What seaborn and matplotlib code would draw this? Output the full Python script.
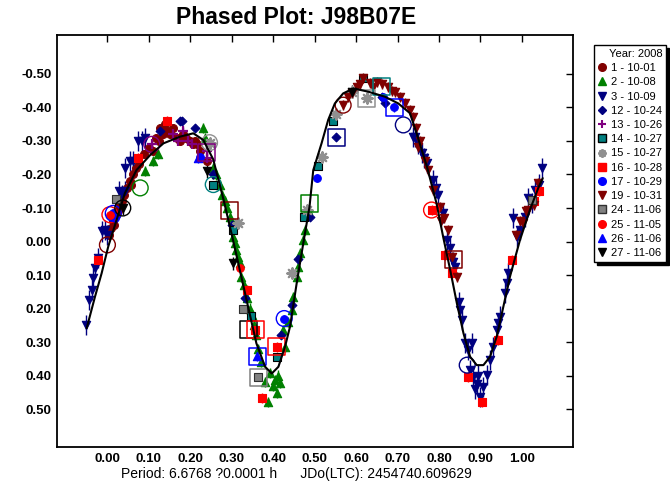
import numpy as np
import pandas as pd
import seaborn as sns
import matplotlib.pyplot as plt
from matplotlib.lines import Line2D

# ---- data (phase, reduced mag) ----
s1_phase = [0.005, 0.010, 0.014, 0.018, 0.022, 0.030, 0.035, 0.040, 0.048, 0.055, 0.062, 0.070,
            0.078, 0.090, 0.110, 0.125, 0.128, 0.135, 0.145, 0.152, 0.160, 0.168, 0.176, 0.190,
            0.200, 0.207, 0.216, 0.225, 0.240, 0.026, 0.058, 0.100, 0.118, 0.140, 0.182, 0.212]
s1_mag = [-0.02, -0.04, -0.06, -0.05, -0.08, -0.11, -0.12, -0.14, -0.16, -0.18, -0.20, -0.22,
          -0.23, -0.26, -0.27, -0.30, -0.34, -0.32, -0.33, -0.32, -0.34, -0.31, -0.30, -0.31,
          -0.30, -0.29, -0.29, -0.27, -0.24, -0.09, -0.17, -0.28, -0.31, -0.35, -0.32, -0.30]

s2_phase = [0.092, 0.111, 0.124, 0.232, 0.235, 0.256, 0.272, 0.284, 0.296, 0.304, 0.308, 0.312,
            0.316, 0.320, 0.324, 0.330, 0.345, 0.355, 0.365, 0.370, 0.389, 0.393, 0.400, 0.405,
            0.409, 0.417, 0.425, 0.429, 0.435, 0.445, 0.449, 0.457, 0.461, 0.465, 0.473, 0.477,
            0.485, 0.262, 0.278, 0.290, 0.338, 0.350, 0.360, 0.381, 0.412]
s2_mag = [-0.21, -0.24, -0.26, -0.34, -0.31, -0.22, -0.17, -0.12, -0.074, -0.014, 0.005, 0.025,
          0.045, 0.065, 0.105, 0.13, 0.20, 0.25, 0.32, 0.36, 0.478, 0.393, 0.43, 0.413,
          0.453, 0.423, 0.264, 0.314, 0.24, 0.205, 0.165, 0.105, 0.075, 0.035, -0.005, -0.034,
          -0.094, -0.20, -0.14, -0.10, 0.17, 0.22, 0.28, 0.42, 0.40]

s3_phase = [-0.050, -0.043, -0.037, -0.033, -0.028, -0.022, -0.013, -0.005, 0.000, 0.030, 0.037,
            0.043, 0.043, 0.055, 0.063, 0.075, 0.084, 0.092, 0.738, 0.742, 0.758, 0.771, 0.786,
            0.798, 0.810, 0.819, 0.827, 0.839, 0.847, 0.851, 0.855, 0.863, 0.871, 0.875, 0.879,
            0.883, 0.891, 0.899, 0.907, 0.915, 0.923, 0.931, 0.939, 0.943, 0.947, 0.959, 0.963,
            0.967, 0.987, 0.995, 1.007, 1.023, 1.031, 1.047, 0.750, 0.764, 0.792, 0.833, 0.887,
            0.895, 0.978, 1.015, 1.040]
s3_mag = [0.25, 0.175, 0.145, 0.11, 0.08, 0.05, -0.03, -0.034, -0.02, -0.15, -0.14,
          -0.15, -0.22, -0.24, -0.24, -0.30, -0.30, -0.31, -0.313, -0.313, -0.263, -0.233, -0.184,
          -0.139, -0.084, -0.004, 0.02, 0.075, 0.18, 0.205, 0.234, 0.304, 0.324, 0.384, 0.304,
          0.404, 0.424, 0.463, 0.433, 0.398, 0.354, 0.314, 0.264, 0.244, 0.224, 0.155, 0.125,
          0.095, -0.014, -0.034, -0.074, -0.114, -0.154, -0.219, -0.29, -0.25, -0.16, 0.06, 0.44,
          0.40, -0.07, -0.13, -0.17]

s12_phase = [0.128, 0.176, 0.180, 0.212, 0.255, 0.300, 0.333, 0.420, 0.445, 0.461, 0.489, 0.553,
             0.662, 0.670]
s12_mag = [-0.33, -0.36, -0.36, -0.34, -0.20, -0.05, 0.17, 0.28, 0.19, 0.053, -0.072, -0.311,
           -0.432, -0.412]

s13_phase = [0.108, 0.160, 0.171, 0.184, 0.195, 0.205, 0.240, 0.242]
s13_mag = [-0.29, -0.32, -0.30, -0.33, -0.30, -0.29, -0.27, -0.25]

s14_phase = [0.256, 0.303, 0.346, 0.409, 0.475, 0.509, 0.545, 0.618]
s14_mag = [-0.17, -0.034, 0.222, 0.344, -0.072, -0.225, -0.36, -0.487]

s15_phase = [0.247, 0.316, 0.445, 0.481, 0.519, 0.553, 0.590, 0.626]
s15_mag = [-0.295, -0.056, 0.095, -0.094, -0.253, -0.38, -0.447, -0.427]

s16_phase = [-0.021, 0.075, 0.144, 0.337, 0.357, 0.373, 0.409, 0.782, 0.814, 0.831, 0.871,
             0.903, 0.943, 0.975, 1.030, 1.041]
s16_mag = [0.055, -0.25, -0.36, 0.145, 0.264, 0.468, 0.314, -0.094, 0.04, 0.095, 0.404,
           0.478, 0.294, 0.055, -0.12, -0.152]

s17_phase = [0.015, 0.019, 0.224, 0.427, 0.507, 0.665, 0.692]
s17_mag = [-0.084, -0.07, -0.253, 0.23, -0.189, -0.43, -0.40]

s19_phase = [0.569, 0.581, 0.590, 0.602, 0.618, 0.634, 0.650, 0.662, 0.678, 0.694, 0.706, 0.718,
             0.730, 0.738, 0.745, 0.750, 0.755, 0.774, 0.786, 0.802, 0.806, 0.822, 0.831, 0.843,
             0.985, 0.995, 1.003, 1.010, 1.015, 1.028, 1.039, 0.610, 0.642, 0.686, 0.766, 0.813]
s19_mag = [-0.407, -0.432, -0.442, -0.462, -0.487, -0.474, -0.477, -0.47, -0.462, -0.447, -0.432,
           -0.412, -0.393, -0.373, -0.34, -0.283, -0.30, -0.213, -0.154, -0.104, -0.06, -0.034,
           0.045, 0.105, -0.02, -0.06, -0.054, -0.09, -0.094, -0.11, -0.174, -0.47, -0.46,
           -0.45, -0.24, -0.07]

s24_phase = [0.022, 0.328, 0.365, 1.023]
s24_mag = [-0.127, 0.20, 0.405, -0.124]

s25_phase = [0.007, 0.320, 0.782]
s25_mag = [-0.08, 0.08, -0.094]

s26_phase = [0.219, 0.362]
s26_mag = [-0.25, 0.342]

s27_phase = [0.038, 0.240, 0.304, 0.590]
s27_mag = [-0.10, -0.21, 0.065, -0.447]

# typical error per session (mag)
session_err = [0.012, 0.015, 0.03, 0.012, 0.012, 0.01, 0.01, 0.015, 0.012, 0.015, 0.01, 0.012,
               0.015, 0.02]

session_labels = ["1 - 10-01", "2 - 10-08", "3 - 10-09", "12 - 10-24", "13 - 10-26",
                  "14 - 10-27", "15 - 10-27", "16 - 10-28", "17 - 10-29", "19 - 10-31",
                  "24 - 11-06", "25 - 11-05", "26 - 11-06", "27 - 11-06"]

# highlighted points (open rings / open boxes)
ring_phase = [0.001, 0.007, 0.015, 0.038, 0.080, 0.108, 0.247, 0.256, 0.427, 0.569, 0.714, 0.782, 0.868]
ring_mag = [0.01, -0.08, -0.084, -0.10, -0.16, -0.29, -0.295, -0.17, 0.23, -0.407, -0.348, -0.094, 0.369]
ring_session = [0, 11, 8, 13, 1, 4, 6, 5, 8, 9, 2, 11, 2]

box_phase = [0.240, 0.295, 0.340, 0.357, 0.362, 0.365, 0.409, 0.488, 0.553, 0.626, 0.662, 0.692, 0.835]
box_mag = [-0.265, -0.094, 0.264, 0.264, 0.342, 0.405, 0.314, -0.114, -0.311, -0.427, -0.464, -0.40, 0.055]
box_session = [4, 9, 13, 7, 12, 10, 7, 1, 3, 6, 5, 12, 9]

# fitted Fourier curve
curve_phase = [-0.049, -0.029, -0.013, 0.003, 0.023, 0.043, 0.071, 0.104, 0.136, 0.176, 0.208,
               0.232, 0.256, 0.281, 0.300, 0.320, 0.340, 0.360, 0.381, 0.397, 0.413, 0.429,
               0.441, 0.457, 0.473, 0.488, 0.497, 0.517, 0.533, 0.549, 0.569, 0.594, 0.630,
               0.670, 0.702, 0.730, 0.746, 0.771, 0.794, 0.810, 0.827, 0.843, 0.859, 0.875,
               0.891, 0.907, 0.923, 0.939, 0.955, 0.971, 0.995, 1.019, 1.039, 1.050]
curve_mag = [0.259, 0.165, 0.095, 0.015, -0.064, -0.144, -0.213, -0.258, -0.293, -0.313, -0.323,
             -0.303, -0.245, -0.124, -0.024, 0.085, 0.195, 0.304, 0.374, 0.394, 0.374, 0.314,
             0.254, 0.125, 0.005, -0.104, -0.213, -0.293, -0.363, -0.412, -0.442, -0.457, -0.447,
             -0.432, -0.412, -0.383, -0.323, -0.223, -0.114, -0.014, 0.085, 0.184, 0.274, 0.344,
             0.369, 0.369, 0.344, 0.284, 0.195, 0.105, -0.004, -0.094, -0.159, -0.189]

phases = [s1_phase, s2_phase, s3_phase, s12_phase, s13_phase, s14_phase, s15_phase,
          s16_phase, s17_phase, s19_phase, s24_phase, s25_phase, s26_phase, s27_phase]
mags = [s1_mag, s2_mag, s3_mag, s12_mag, s13_mag, s14_mag, s15_mag,
        s16_mag, s17_mag, s19_mag, s24_mag, s25_mag, s26_mag, s27_mag]

# ---- styles ----
colors = ["#800000", "#008000", "#000080", "#000080", "#800080", "#008080", "#909090",
          "#ff0000", "#0000ff", "#800000", "#808080", "#ff0000", "#0000ff", "#000000"]
edges = ["#800000", "#008000", "#000080", "#000080", "#800080", "#000000", "#909090",
         "#ff0000", "#0000ff", "#800000", "#303030", "#ff0000", "#0000ff", "#000000"]
markers = ["o", "^", "v", "D", "+", "s", (8, 2, 0), "s", "o", "v", "s", "o", "^", "v"]
sizes = [32, 36, 36, 20, 45, 32, 55, 32, 30, 36, 32, 30, 36, 36]

sns.set_style("white")
plt.rcParams['font.family'] = ['Liberation Sans', 'DejaVu Sans']
plt.rcParams['axes.unicode_minus'] = False
plt.rcParams['text.color'] = 'black'
plt.rcParams['xtick.color'] = 'black'
plt.rcParams['ytick.color'] = 'black'

fig = plt.figure(figsize=(6.7, 4.82), dpi=100)
ax = fig.add_axes([57 / 670, 1 - 447 / 482, 516 / 670, 412 / 482])

rows = []
for i, lab in enumerate(session_labels):
    for p, m in zip(phases[i], mags[i]):
        rows.append({"phase": p, "mag": m, "session": lab})
df = pd.DataFrame(rows)

# error bars
for i, lab in enumerate(session_labels):
    sub = df[df.session == lab]
    ax.errorbar(sub.phase, sub.mag, yerr=session_err[i], fmt="none",
                ecolor=colors[i], elinewidth=1.0, capsize=0, zorder=2)

# highlight rings and boxes
for p, m, s in zip(ring_phase, ring_mag, ring_session):
    ax.scatter(p, m, s=130, marker="o", facecolors="none", edgecolors=colors[s],
               linewidths=1.0, zorder=4)
for p, m, s in zip(box_phase, box_mag, box_session):
    ax.scatter(p, m, s=150, marker="s", facecolors="none", edgecolors=colors[s],
               linewidths=1.1, zorder=4)

# points
for i, lab in enumerate(session_labels):
    sub = df[df.session == lab]
    if markers[i] in ["+", (8, 2, 0)]:
        sns.scatterplot(data=sub, x="phase", y="mag", marker=markers[i], color=colors[i],
                        s=sizes[i], linewidth=1.6, ax=ax, zorder=3, legend=False)
    else:
        sns.scatterplot(data=sub, x="phase", y="mag", marker=markers[i], color=colors[i],
                        edgecolor=edges[i], s=sizes[i], linewidth=0.8, ax=ax, zorder=3,
                        legend=False)

# fit curve
curve = pd.DataFrame({"phase": curve_phase, "mag": curve_mag})
sns.lineplot(data=curve, x="phase", y="mag", sort=False, color="black", linewidth=1.5,
             ax=ax, zorder=5)

ax.set_xlim(-0.1205, 1.1229)
ax.set_ylim(0.6134, -0.6164)
xt = [0.0, 0.1, 0.2, 0.3, 0.4, 0.5, 0.6, 0.7, 0.8, 0.9, 1.0]
yt = [-0.5, -0.4, -0.3, -0.2, -0.1, 0.0, 0.1, 0.2, 0.3, 0.4, 0.5]
ax.set_xticks(xt)
ax.set_xticklabels([f"{v:.2f}" for v in xt])
ax.set_yticks(yt)
ax.set_yticklabels([f"{v + 0.0:.2f}" for v in yt])
ax.tick_params(direction="in", length=5, width=1, top=True, right=True,
               labelsize=9.5, pad=4, colors="black")
for lbl in ax.get_xticklabels() + ax.get_yticklabels():
    lbl.set_fontweight("bold")
for sp in ax.spines.values():
    sp.set_linewidth(1.3)
    sp.set_color("black")
ax.set_xlabel("")
ax.set_ylabel("")

fig.text(0.442, 1 - 18 / 482, "Phased Plot: J98B07E", ha="center", va="center",
         fontsize=16.5, fontweight="heavy", color="black")
fig.text(0.443, 1 - 474 / 482, "Period: 6.6768 ?0.0001 h      JDo(LTC): 2454740.609629",
         ha="center", va="center", fontsize=10, color="black")

# legend
handles = []
for i, lab in enumerate(session_labels):
    if markers[i] in ["+", (8, 2, 0)]:
        h = Line2D([], [], linestyle="none", marker=markers[i], color=colors[i],
                   markersize=6, markeredgewidth=1.5)
    else:
        h = Line2D([], [], linestyle="none", marker=markers[i], color=colors[i],
                   markeredgecolor=edges[i], markersize=5.5 if markers[i] != "D" else 4)
    handles.append(h)
leg = fig.legend(handles, session_labels, title="Year: 2008", loc="upper left",
                 bbox_to_anchor=(594 / 670, 1 - 45 / 482), fontsize=8, title_fontsize=8,
                 frameon=True, fancybox=False, shadow={"color": "black", "alpha": 1},
                 handlelength=0.8, handletextpad=0.4, labelspacing=0.38, borderpad=0.35,
                 borderaxespad=0, alignment="right")
leg.get_frame().set_edgecolor("black")
leg.get_frame().set_linewidth(1.0)

fig.savefig("out.png", dpi=100)
